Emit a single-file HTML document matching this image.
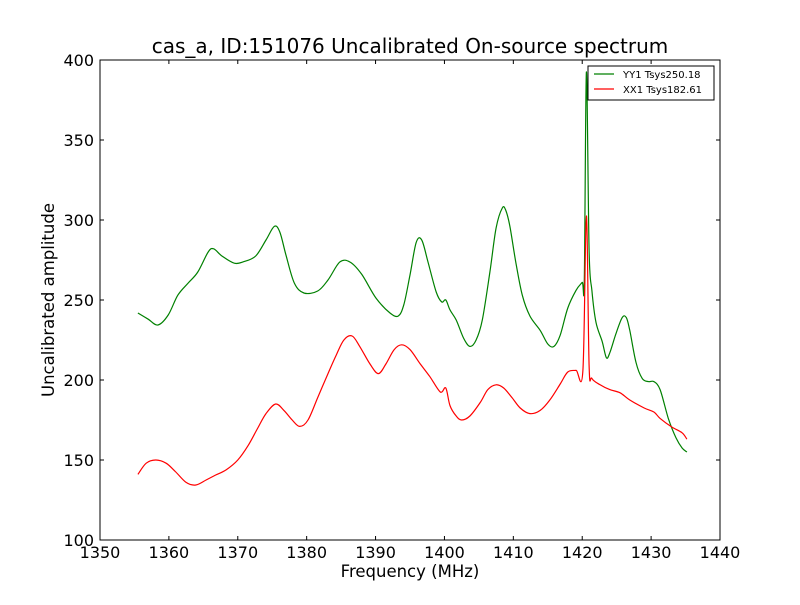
<!DOCTYPE html>
<html><head><meta charset="utf-8"><style>
body{margin:0;background:#fff;}
svg{font-family:"DejaVu Sans","Liberation Sans",sans-serif;}
</style></head><body>
<svg id="chart" width="800" height="600" viewBox="0 0 800 600">
<rect x="0" y="0" width="800" height="600" fill="#fff"/>
<text x="410" y="53" text-anchor="middle" font-size="20">cas_a, ID:151076 Uncalibrated On-source spectrum</text>
<g id="ticks"></g>
<g id="series"></g>
<rect x="100" y="60" width="620" height="480" fill="none" stroke="#000" stroke-width="1"/>
<text x="410" y="577" text-anchor="middle" font-size="16.5">Frequency (MHz)</text>
<text x="0" y="0" transform="translate(54,300) rotate(-90)" text-anchor="middle" font-size="16.5">Uncalibrated amplitude</text>
<g>
<rect x="588" y="66" width="126" height="34" fill="#fff" stroke="#000" stroke-width="1"/>
<line x1="594" y1="74" x2="614" y2="74" stroke="#008000" stroke-width="1.2"/>
<text x="623" y="78" font-size="10">YY1 Tsys250.18</text>
<line x1="594" y1="89" x2="614" y2="89" stroke="#ff0000" stroke-width="1.2"/>
<text x="623" y="93" font-size="10">XX1 Tsys182.61</text>
</g>
</svg>
<script>
const xTicks=[1350,1360,1370,1380,1390,1400,1410,1420,1430,1440];
const yTicks=[100,150,200,250,300,350,400];
const yyFreq=[1355.5,1357.0,1358.4,1359.9,1361.3,1362.8,1364.2,1365.7,1366.5,1367.7,1369.5,1370.9,1372.6,1374.1,1375.3,1376.1,1377.0,1378.2,1379.6,1381.6,1383.1,1384.8,1386.3,1388.0,1390.1,1392.1,1393.3,1394.1,1395.0,1395.9,1396.7,1397.6,1398.8,1399.6,1400.2,1400.8,1401.7,1402.8,1403.7,1404.6,1405.5,1406.6,1407.5,1408.4,1408.9,1409.5,1410.4,1411.3,1412.4,1413.9,1415.0,1415.9,1416.8,1417.9,1419.1,1420.0,1420.3,1420.6,1421.0,1421.4,1422.0,1422.9,1423.5,1424.0,1424.9,1425.8,1426.4,1426.9,1427.8,1428.7,1429.6,1430.4,1431.3,1432.5,1433.6,1434.5,1435.2];
const yyValues=[241.9,238,234.4,240.6,253,260.6,267.5,280,282,277.5,273,274,277.5,287.5,296,292.5,278,260.6,254.4,255.6,262.5,273.7,273.7,266,251,241.9,240,247,265.6,286,287.5,274,255,248.8,250,243.8,237.5,226,221,225,237.5,267.5,295,307.5,306,296,272.5,253,240,231,222.5,221,228,245,256,261,262.5,392.5,281,256,236,224,214,217,229,239,239,231,211,201,199,199,194,176,164,157.5,155];
const xxFreq=[1355.5,1356.7,1358.1,1359.6,1361.0,1362.5,1363.9,1365.4,1366.8,1368.3,1370.0,1371.5,1372.9,1374.1,1375.5,1376.7,1377.9,1379.0,1380.2,1381.6,1383.1,1384.3,1385.4,1386.6,1387.7,1389.2,1390.4,1391.5,1392.7,1393.8,1395.0,1396.5,1397.9,1399.4,1400.2,1400.8,1401.7,1402.5,1403.7,1405.2,1406.3,1407.5,1408.6,1409.8,1411.0,1412.4,1413.9,1415.3,1416.8,1417.9,1419.1,1420.1,1420.6,1421.0,1421.4,1422.6,1424.0,1425.5,1426.9,1429.0,1430.4,1431.3,1433.0,1434.5,1435.2];
const xxValues=[141,148,150,148,142.5,136,134.4,137.5,140.6,143.8,150,159,170,179,185,181,175,171,175,189,204,215.6,225,227.5,221,210,204,210,219,222,219,210,202,192.5,195,184,177.5,175,177.5,186,194,197,195,189,182.5,179,181,187.5,197.5,205,206,206,302.5,209,201,197,194,192,187.5,182.5,180,176,170.6,167,163];
const X0=100,X1=720,Y0=540,Y1=60;
const xs=f=>X0+(f-1350)/(1440-1350)*(X1-X0);
const ys=v=>Y0-(v-100)/(400-100)*(Y0-Y1);
const NS='http://www.w3.org/2000/svg';
const tg=document.getElementById('ticks');
xTicks.forEach(t=>{
  const x=xs(t);
  [[Y0,Y0-4],[Y1,Y1+4]].forEach(p=>{
    const l=document.createElementNS(NS,'line');
    l.setAttribute('x1',x);l.setAttribute('x2',x);l.setAttribute('y1',p[0]);l.setAttribute('y2',p[1]);
    l.setAttribute('stroke','#000');
    
    
    tg.appendChild(l);
  });
  const tx=document.createElementNS(NS,'text');
  tx.setAttribute('x',x);tx.setAttribute('y',Y0+18);tx.setAttribute('text-anchor','middle');tx.setAttribute('font-size','16');
  tx.textContent=t;
  
  
  tg.appendChild(tx);
});
yTicks.forEach(t=>{
  const y=ys(t);
  [[X0,X0+4],[X1,X1-4]].forEach(p=>{
    const l=document.createElementNS(NS,'line');
    l.setAttribute('x1',p[0]);l.setAttribute('x2',p[1]);l.setAttribute('y1',y);l.setAttribute('y2',y);
    l.setAttribute('stroke','#000');
    
    
    tg.appendChild(l);
  });
  const tx=document.createElementNS(NS,'text');
  tx.setAttribute('x',X0-6);tx.setAttribute('y',y+6);tx.setAttribute('text-anchor','end');tx.setAttribute('font-size','16');
  tx.textContent=t;
  
  
  tg.appendChild(tx);
});
const sg=document.getElementById('series');
function draw(fr,vals,color,name){
  const pts=fr.map((f,i)=>[xs(f),ys(vals[i])]);
  let d='M'+pts[0][0].toFixed(1)+','+pts[0][1].toFixed(1);
  for(let i=0;i<pts.length-1;i++){
    const p0=pts[Math.max(0,i-1)],p1=pts[i],p2=pts[i+1],p3=pts[Math.min(pts.length-1,i+2)];
    const c1=[p1[0]+(p2[0]-p0[0])/6,p1[1]+(p2[1]-p0[1])/6];
    const c2=[p2[0]-(p3[0]-p1[0])/6,p2[1]-(p3[1]-p1[1])/6];
    d+=' C'+c1[0].toFixed(1)+','+c1[1].toFixed(1)+' '+c2[0].toFixed(1)+','+c2[1].toFixed(1)+' '+p2[0].toFixed(1)+','+p2[1].toFixed(1);
  }
  const p=document.createElementNS(NS,'path');
  p.setAttribute('d',d);
  p.setAttribute('fill','none');p.setAttribute('stroke',color);p.setAttribute('stroke-width','1.2');p.setAttribute('stroke-linejoin','round');
  
  
  sg.appendChild(p);
}
draw(yyFreq,yyValues,'#008000','yy1-line');
draw(xxFreq,xxValues,'#ff0000','xx1-line');
</script>
</body></html>
